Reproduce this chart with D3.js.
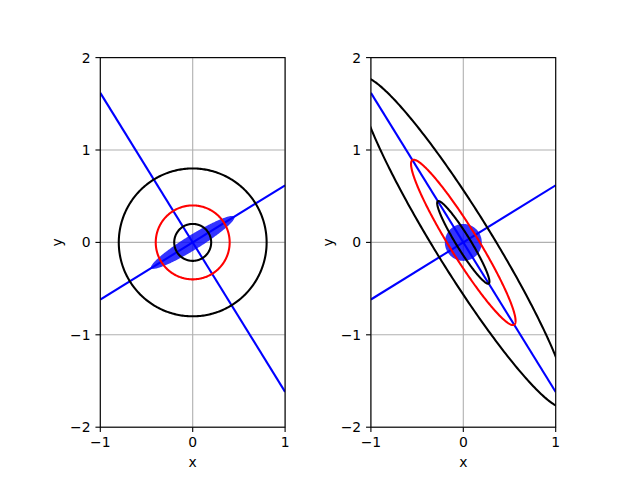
<!DOCTYPE html>
<html>
<head>
<meta charset="utf-8">
<script src="https://cdn.jsdelivr.net/npm/d3@7"></script>
<style>
  body { margin: 0; background: #fff; }
  svg { display: block; }
  text { font-family: "DejaVu Sans", sans-serif; font-size: 13.9px; fill: #000; }
</style>
</head>
<body>
<svg id="chart" width="640" height="480"></svg>
<script>
// ---- data ----
const xDomain = [-1, 1];
const yDomain = [-2, 2];
const xTicks = [-1, 0, 1];
const yTicks = [-2, -1, 0, 1, 2];
const circleRadii = [0.2, 0.4, 0.8];
const circleColors = ["black", "red", "black"];
const lineSlopes = [0.618, -1.618];
// matrix mapping left-panel circles to right-panel ellipses
const rightMatrix = [[1, -1], [-1, 2]];
// left filled ellipse: semi-major, semi-minor, angle (deg)
const blueEllipseLeft = [0.53, 0.08, 31.7];
// right filled circle radius
const blueCircleRight = [0.2];

// ---- layout ----
const svg = d3.select("#chart");
const panels = [
  { x0: 100.3, x1: 285.1, id: "L" },
  { x0: 370.9, x1: 555.7, id: "R" }
];
const yTop = 57.6, yBot = 427.2;
const tickLen = 4.86, tickPad = 4.86;
const lw = 2.08, thin = 1.1;

function ellipsePts(fn, n = 360) {
  return d3.range(n).map(i => fn(2 * Math.PI * i / n));
}

panels.forEach((p, pi) => {
  const x = d3.scaleLinear().domain(xDomain).range([p.x0, p.x1]);
  const y = d3.scaleLinear().domain(yDomain).range([yBot, yTop]);
  const g = svg.append("g");

  g.append("clipPath").attr("id", "clip" + p.id)
    .append("rect").attr("x", p.x0).attr("y", yTop)
    .attr("width", p.x1 - p.x0).attr("height", yBot - yTop);

  // grid
  const grid = g.append("g").attr("stroke", "#b0b0b0").attr("stroke-width", thin);
  xTicks.forEach(t => grid.append("line")
    .attr("x1", x(t)).attr("x2", x(t)).attr("y1", yTop).attr("y2", yBot));
  yTicks.forEach(t => grid.append("line")
    .attr("x1", p.x0).attr("x2", p.x1).attr("y1", y(t)).attr("y2", y(t)));

  const plot = g.append("g").attr("clip-path", `url(#clip${p.id})`);
  const line = d3.line().x(d => x(d[0])).y(d => y(d[1])).curve(d3.curveLinearClosed);

  // blue filled shape
  if (pi === 0) {
    const [a, b, ang] = blueEllipseLeft;
    const th = ang * Math.PI / 180;
    const pts = ellipsePts(t => {
      const u = a * Math.cos(t), v = b * Math.sin(t);
      return [u * Math.cos(th) - v * Math.sin(th), u * Math.sin(th) + v * Math.cos(th)];
    });
    plot.append("path").attr("d", line(pts)).attr("fill", "blue").attr("fill-opacity", 0.8);
  } else {
    const r = blueCircleRight[0];
    const pts = ellipsePts(t => [r * Math.cos(t), r * Math.sin(t)]);
    plot.append("path").attr("d", line(pts)).attr("fill", "blue").attr("fill-opacity", 0.8);
  }

  // lines through origin
  lineSlopes.forEach(s => {
    plot.append("line")
      .attr("x1", x(xDomain[0])).attr("y1", y(s * xDomain[0]))
      .attr("x2", x(xDomain[1])).attr("y2", y(s * xDomain[1]))
      .attr("stroke", "blue").attr("stroke-width", lw);
  });

  // circles / transformed ellipses
  circleRadii.forEach((r, i) => {
    const M = pi === 0 ? [[1, 0], [0, 1]] : rightMatrix;
    const pts = ellipsePts(t => {
      const cx = r * Math.cos(t), cy = r * Math.sin(t);
      return [M[0][0] * cx + M[0][1] * cy, M[1][0] * cx + M[1][1] * cy];
    });
    plot.append("path").attr("d", line(pts))
      .attr("fill", "none").attr("stroke", circleColors[i]).attr("stroke-width", lw);
  });

  // spines
  g.append("rect").attr("x", p.x0).attr("y", yTop)
    .attr("width", p.x1 - p.x0).attr("height", yBot - yTop)
    .attr("fill", "none").attr("stroke", "black").attr("stroke-width", thin);

  // x ticks
  xTicks.forEach(t => {
    g.append("line").attr("x1", x(t)).attr("x2", x(t))
      .attr("y1", yBot).attr("y2", yBot + tickLen)
      .attr("stroke", "black").attr("stroke-width", thin);
    g.append("text").attr("x", x(t)).attr("y", yBot + tickLen + tickPad + 10.2)
      .attr("text-anchor", "middle").text(String(t).replace("-", "\u2212"));
  });
  // y ticks
  yTicks.forEach(t => {
    g.append("line").attr("x1", p.x0 - tickLen).attr("x2", p.x0)
      .attr("y1", y(t)).attr("y2", y(t))
      .attr("stroke", "black").attr("stroke-width", thin);
    g.append("text").attr("x", p.x0 - tickLen - tickPad).attr("y", y(t) + 5)
      .attr("text-anchor", "end").text(String(t).replace("-", "\u2212"));
  });

  // axis labels
  g.append("text").attr("x", (p.x0 + p.x1) / 2).attr("y", 467)
    .attr("text-anchor", "middle").text("x");
  g.append("text")
    .attr("transform", `translate(${p.x0 - 38},${(yTop + yBot) / 2}) rotate(-90)`)
    .attr("text-anchor", "middle").text("y");
});
</script>
</body>
</html>
